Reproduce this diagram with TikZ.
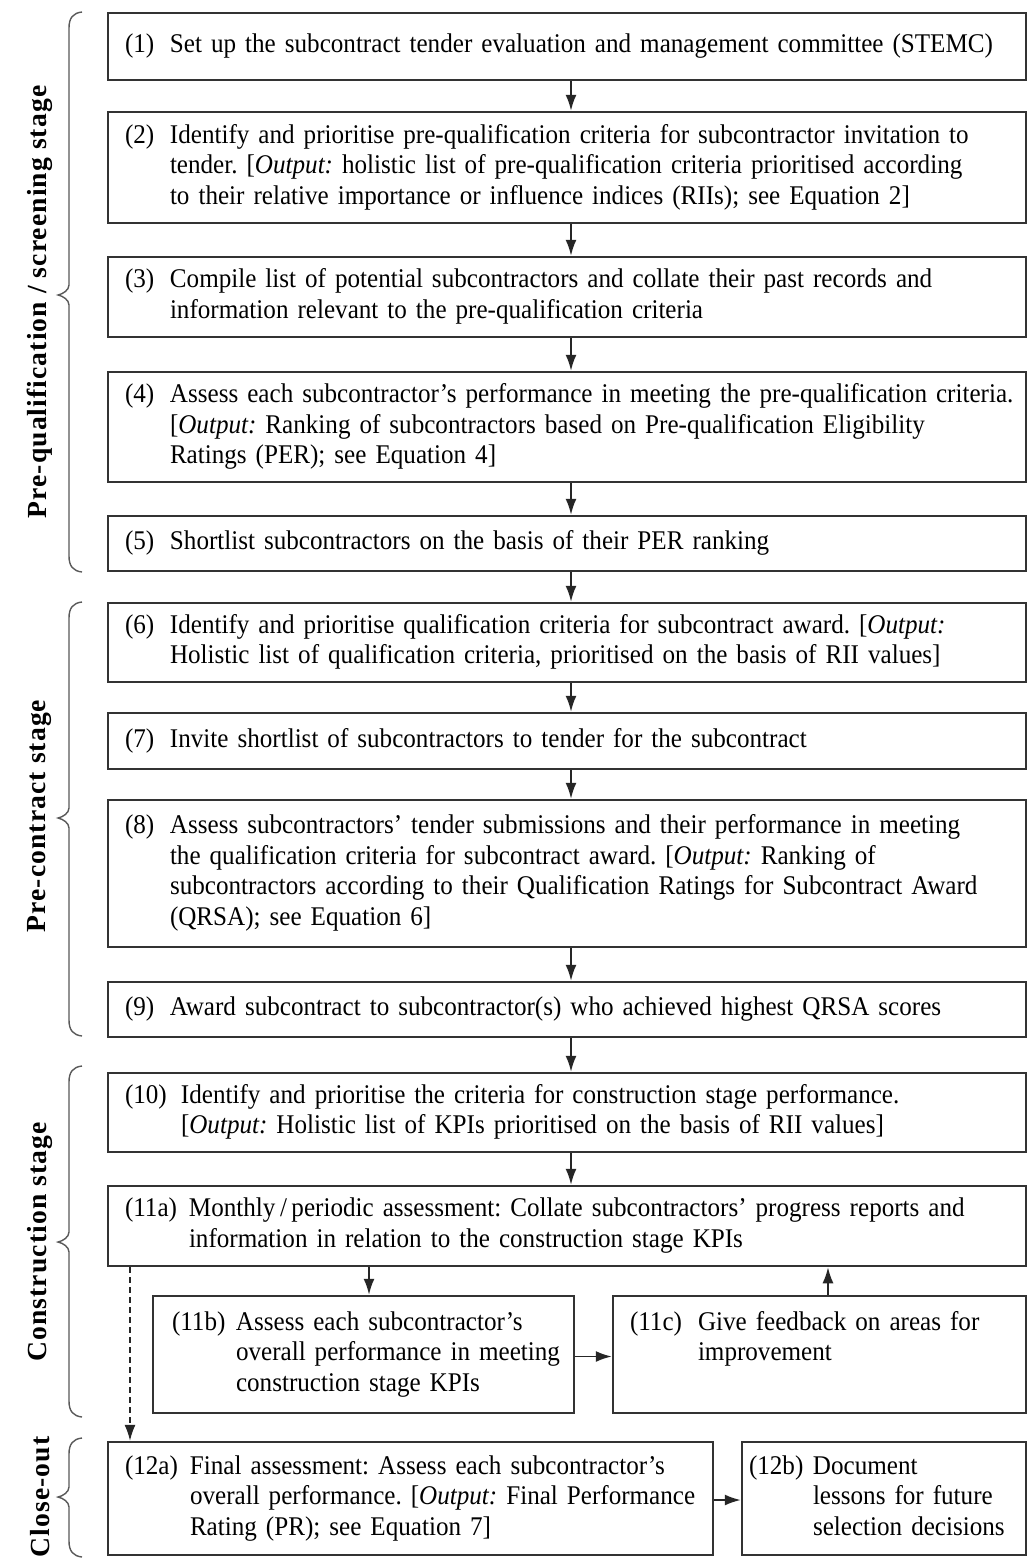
\documentclass[tikz,border=0pt]{standalone}
\usepackage{fontspec}
\setmainfont{Liberation Serif}[FakeStretch=0.93]
\newfontfamily\labfont[LetterSpace=4]{Liberation Serif}
\usetikzlibrary{arrows.meta,calc}
\frenchspacing
\newcommand{\stepfont}{\fontsize{13.5}{15.25}\selectfont\frenchspacing}
\newcommand{\stxt}[3]{\makebox[#1][l]{#2}\begin{tabular}[t]{@{}l@{}}#3\end{tabular}}
\newcommand{\stbrace}[3]{%
  \draw[bracestyle] (82,#1) .. controls (73,#1+1) and (69,#1+6) .. (69,#1+16)
    -- (69,#2-10) .. controls (69,#2-5) and (63,#2-1) .. (58,#2)
    .. controls (63,#2+1) and (69,#2+5) .. (69,#2+10)
    -- (69,#3-16) .. controls (69,#3-6) and (73,#3-1) .. (82,#3);}
\begin{document}
\begin{tikzpicture}[x=0.5pt,y=-0.5pt,
  stepbox/.style={draw=black!80, line width=1.25pt, inner xsep=8.5pt, inner ysep=1pt,
    align=left, font=\stepfont, minimum width=459pt, text width=442pt},
  arr/.style={draw=black!85, line width=0.9pt, -{Latex[length=8pt,width=5.5pt]}},
  dasharr/.style={arr, line width=0.7pt, dash pattern=on 3pt off 2pt},
  bracestyle/.style={draw=black!65, line width=0.7pt},
  stagelab/.style={rotate=90, font=\labfont\bfseries\fontsize{13.8}{15}\selectfont, inner sep=0pt}]
\useasboundingbox (0,0) rectangle (1028,1558);
\fill[white] (0,0) rectangle (1028,1558);

\node[stepbox, minimum height=33.5pt] (b1) at (567,46.5)
  {\stxt{22.5pt}{(1)}{Set up the subcontract tender evaluation and management committee (STEMC)}};
\node[stepbox, minimum height=55.5pt] (b2) at (567,167.5)
  {\stxt{22.5pt}{(2)}{Identify and prioritise pre-qualification criteria for subcontractor invitation to\\
  tender. {[}\textit{Output:} holistic list of pre-qualification criteria prioritised according\\
  to their relative importance or influence indices (RIIs); see Equation 2{]}}};
\node[stepbox, minimum height=40pt] (b3) at (567,297)
  {\stxt{22.5pt}{(3)}{Compile list of potential subcontractors and collate their past records and\\
  information relevant to the pre-qualification criteria}};
\node[stepbox, minimum height=55pt] (b4) at (567,427)
  {\stxt{22.5pt}{(4)}{Assess each subcontractor’s performance in meeting the pre-qualification criteria.\\
  {[}\textit{Output:} Ranking of subcontractors based on Pre-qualification Eligibility\\
  Ratings (PER); see Equation 4{]}}};
\node[stepbox, minimum height=27.5pt] (b5) at (567,543.5)
  {\stxt{22.5pt}{(5)}{Shortlist subcontractors on the basis of their PER ranking}};
\node[stepbox, minimum height=39.5pt] (b6) at (567,642.5)
  {\stxt{22.5pt}{(6)}{Identify and prioritise qualification criteria for subcontract award. {[}\textit{Output:}\\
  Holistic list of qualification criteria, prioritised on the basis of RII values{]}}};
\node[stepbox, minimum height=28pt] (b7) at (567,741)
  {\stxt{22.5pt}{(7)}{Invite shortlist of subcontractors to tender for the subcontract}};
\node[stepbox, minimum height=73.5pt] (b8) at (567,873.5)
  {\stxt{22.5pt}{(8)}{Assess subcontractors’ tender submissions and their performance in meeting\\
  the qualification criteria for subcontract award. {[}\textit{Output:} Ranking of\\
  subcontractors according to their Qualification Ratings for Subcontract Award\\
  (QRSA); see Equation 6{]}}};
\node[stepbox, minimum height=27.5pt] (b9) at (567,1009.5)
  {\stxt{22.5pt}{(9)}{Award subcontract to subcontractor(s) who achieved highest QRSA scores}};
\node[stepbox, minimum height=39.5pt] (b10) at (567,1112.5)
  {\stxt{28pt}{(10)}{Identify and prioritise the criteria for construction stage performance.\\
  {[}\textit{Output:} Holistic list of KPIs prioritised on the basis of RII values{]}}};
\node[stepbox, minimum height=40pt] (b11a) at (567,1226)
  {\stxt{32pt}{(11a)}{Monthly\,/\,periodic assessment: Collate subcontractors’ progress reports and\\
  information in relation to the construction stage KPIs}};
\node[stepbox, minimum width=210.5pt, text width=191.5pt, inner xsep=9.5pt, minimum height=58.5pt] (b11b) at (363.5,1354.5)
  {\stxt{32pt}{(11b)}{Assess each subcontractor’s\\ overall performance in meeting\\ construction stage KPIs}};
\node[stepbox, minimum width=206.5pt, text width=189.5pt, minimum height=58.5pt] (b11c) at (819.5,1354.5)
  {\stxt{34pt}{(11c)}{Give feedback on areas for\\ improvement\\ \mbox{}}};
\node[stepbox, minimum width=302.5pt, text width=285.5pt, minimum height=56.5pt] (b12a) at (410.5,1498.5)
  {\stxt{32.5pt}{(12a)}{Final assessment: Assess each subcontractor’s\\
  overall performance. {[}\textit{Output:} Final Performance\\ Rating (PR); see Equation 7{]}}};
\node[stepbox, minimum width=142pt, text width=135pt, inner xsep=3.5pt, minimum height=56.5pt] (b12b) at (884,1498.5)
  {\stxt{32pt}{(12b)}{Document\\ lessons for future\\ selection decisions}};

\foreach \a/\b in {b1/b2,b2/b3,b3/b4,b4/b5,b5/b6,b6/b7,b7/b8,b8/b9,b9/b10,b10/b11a}
  \draw[arr] ([xshift=2pt]\a.south) -- ([xshift=2pt]\b.north);
\draw[arr] ([xshift=2.75pt]b11a.south -| b11b.north) -- ([xshift=2.75pt]b11b.north);
\draw[arr] ([xshift=4.25pt]b11c.north) -- ([xshift=4.25pt]b11a.south -| b11c.north);
\draw[arr] ([yshift=-1pt]b11b.east) -- ([yshift=-1pt]b11c.west);
\draw[arr] ([yshift=-0.75pt]b12a.east) -- ([yshift=-0.75pt]b12b.west);
\coordinate (dashx) at (130,0);
\draw[dasharr] (b11a.south -| dashx) -- (b12a.north -| dashx);

\stbrace{12}{295}{572}
\stbrace{602}{818}{1036}
\stbrace{1066}{1242}{1417}
\stbrace{1438}{1497}{1557}

\node[stagelab] (lab1) at (40,302) {Pre-qualification / screening stage};
\node[stagelab] (lab2) at (40,816) {Pre-contract stage};
\node[stagelab] (lab3) at (40,1242) {Construction stage};
\node[stagelab] (lab4) at (40,1497) {Close-out};
\end{tikzpicture}
\end{document}
